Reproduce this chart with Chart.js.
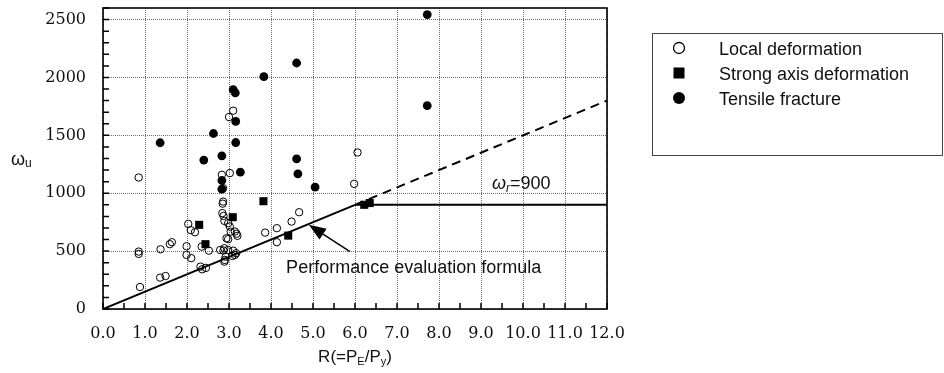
<!DOCTYPE html>
<html>
<head>
<meta charset="utf-8">
<script src="https://cdn.jsdelivr.net/npm/chart.js@4"></script>
<style>
  html, body { margin: 0; padding: 0; background: #fff; }
  #wrap { width: 944px; height: 373px; }
</style>
</head>
<body>
<div id="wrap"><canvas id="c" width="944" height="373"></canvas></div>
<script>
// Local deformation (open circles)
const localX = [0.85, 0.85, 0.85, 0.88, 1.37, 1.59, 1.64, 1.36, 1.49, 2.03, 2.09, 2.19, 1.99, 1.99, 2.10,
  2.32, 2.36, 2.35, 2.52, 2.45, 2.83, 3.02, 2.86, 2.85, 2.84, 2.87, 2.89, 2.98, 3.02, 3.04, 3.14, 3.18,
  3.20, 2.98, 2.94, 2.89, 2.87, 2.98, 3.10, 3.14, 2.92, 2.89, 2.90, 3.08, 3.17, 2.79, 3.10, 3.00, 3.86,
  4.14, 4.14, 4.49, 4.67, 5.98, 6.06, 2.86];
const localY = [1136, 496, 476, 190, 516, 560, 577, 271, 285, 735, 681, 663, 542, 467, 439,
  366, 343, 539, 504, 355, 1159, 1174, 928, 910, 828, 804, 761, 741, 712, 668, 669, 650,
  632, 603, 611, 525, 505, 510, 504, 467, 452, 409, 424, 458, 482, 510, 1713, 1658, 660,
  698, 577, 755, 836, 1081, 1352, 1044];

// Strong axis deformation (filled squares)
const strongX = [2.29, 2.44, 3.09, 3.82, 4.41, 6.22, 6.35];
const strongY = [727, 560, 793, 931, 634, 900, 915];

// Tensile fracture (filled circles)
const tensileX = [1.36, 2.40, 2.63, 2.83, 3.10, 3.15, 3.16, 3.16, 3.27, 2.83, 2.83, 3.83, 4.61, 7.72,
  7.72, 4.61, 4.64, 5.05];
const tensileY = [1436, 1286, 1516, 1323, 1894, 1866, 1620, 1438, 1182, 1110, 1035, 2007, 2125, 2543,
  1756, 1297, 1168, 1053];

// performance evaluation formula and its limit
const formulaX = [0, 6];
const formulaY = [0, 900];
const limitX = [6, 12];
const limitY = [900, 900];
const extendX = [6, 12];
const extendY = [900, 1800];

const xTicks = [0, 1, 2, 3, 4, 5, 6, 7, 8, 9, 10, 11, 12];
const yTicks = [0, 500, 1000, 1500, 2000, 2500];

const seriesNames = ['Local deformation', 'Strong axis deformation', 'Tensile fracture'];

const toPts = (xs, ys) => xs.map((x, i) => ({ x: x, y: ys[i] }));

const SANS = '"Liberation Sans", Arial, sans-serif';
const SERIF = '"DejaVu Serif", serif';
const INK = '#111';

// draw a run of text pieces (for subscripts / italics)
function richText(ctx, parts, x, y, align) {
  let total = 0;
  parts.forEach(p => {
    ctx.font = (p.italic ? 'italic ' : '') + p.size + 'px ' + SANS;
    p.w = ctx.measureText(p.t).width;
    total += p.w;
  });
  let cx = align === 'center' ? x - total / 2 : x;
  ctx.textAlign = 'left';
  ctx.textBaseline = 'alphabetic';
  parts.forEach(p => {
    ctx.font = (p.italic ? 'italic ' : '') + p.size + 'px ' + SANS;
    ctx.fillText(p.t, cx, y + (p.dy || 0));
    cx += p.w;
  });
}

const decor = {
  id: 'decor',
  afterDatasetsDraw(chart) {
    const { ctx, chartArea: a, scales } = chart;
    const xs = scales.x, ys = scales.y;
    ctx.save();
    ctx.setLineDash([]);

    // minor ticks, pointing inward
    ctx.lineWidth = 1.5;
    ctx.strokeStyle = '#000';
    ctx.beginPath();
    for (let i = 0; i <= 24; i++) {
      const px = xs.getPixelForValue(i * 0.5);
      ctx.moveTo(px, a.bottom);
      ctx.lineTo(px, a.bottom - 6);
    }
    for (let i = 0; i <= 26; i++) {
      const py = ys.getPixelForValue(i * 100);
      ctx.moveTo(a.left, py);
      ctx.lineTo(a.left + 6, py);
    }
    ctx.stroke();

    // frame
    ctx.strokeStyle = '#000';
    ctx.lineWidth = 1.6;
    ctx.strokeRect(a.left, a.top, a.right - a.left, a.bottom - a.top);

    // arrow to the formula line
    const tail = { x: xs.getPixelForValue(5.88), y: ys.getPixelForValue(496) };
    const tip = { x: xs.getPixelForValue(4.9), y: ys.getPixelForValue(727) };
    const dx = tip.x - tail.x, dy = tip.y - tail.y;
    const len = Math.hypot(dx, dy);
    const ux = dx / len, uy = dy / len;
    const headL = 17, headW = 6.5;
    const bx = tip.x - ux * headL, by = tip.y - uy * headL;
    ctx.lineWidth = 1.5;
    ctx.beginPath();
    ctx.moveTo(tail.x, tail.y);
    ctx.lineTo(bx, by);
    ctx.stroke();
    ctx.fillStyle = '#000';
    ctx.beginPath();
    ctx.moveTo(tip.x, tip.y);
    ctx.lineTo(bx - uy * headW, by + ux * headW);
    ctx.lineTo(bx + uy * headW, by - ux * headW);
    ctx.closePath();
    ctx.fill();

    // annotations
    ctx.fillStyle = INK;
    richText(ctx, [{ t: 'Performance evaluation formula', size: 18 }],
      xs.getPixelForValue(4.36), ys.getPixelForValue(311), 'left');
    richText(ctx, [
      { t: 'ω', size: 18, italic: true },
      { t: 'r', size: 12, italic: true, dy: 3 },
      { t: '=900', size: 18 }
    ], xs.getPixelForValue(9.26), ys.getPixelForValue(1040), 'left');

    // axis titles
    richText(ctx, [
      { t: 'R(=P', size: 17 }, { t: 'E', size: 11, dy: 3 },
      { t: '/P', size: 17 }, { t: 'y', size: 11, dy: 3 }, { t: ')', size: 17 }
    ], (a.left + a.right) / 2, a.bottom + 53, 'center');
    richText(ctx, [{ t: 'ω', size: 18 }, { t: 'u', size: 12, dy: 2 }], 11, 165, 'left');

    // legend box
    ctx.strokeStyle = '#444';
    ctx.lineWidth = 1;
    ctx.strokeRect(652.5, 33.5, 290, 122);
    const mx = 679, rows = [48, 73, 98];
    ctx.lineWidth = 1.3;
    ctx.strokeStyle = '#000';
    ctx.beginPath();
    ctx.arc(mx, rows[0], 5.5, 0, Math.PI * 2);
    ctx.stroke();
    ctx.fillStyle = '#000';
    ctx.fillRect(mx - 5.5, rows[1] - 5.5, 11, 11);
    ctx.beginPath();
    ctx.arc(mx, rows[2], 6, 0, Math.PI * 2);
    ctx.fill();
    ctx.fillStyle = INK;
    seriesNames.forEach((name, i) => {
      richText(ctx, [{ t: name, size: 18 }], 719, rows[i] + 6.5, 'left');
    });

    ctx.restore();
  }
};

const lineStyle = {
  type: 'line', showLine: true, pointRadius: 0, borderColor: '#000', borderWidth: 2,
  fill: false, tension: 0
};

new Chart(document.getElementById('c'), {
  type: 'scatter',
  data: {
    datasets: [
      {
        label: seriesNames[0], data: toPts(localX, localY), pointStyle: 'circle',
        pointRadius: 3.7, backgroundColor: 'rgba(255,255,255,0)', borderColor: '#000', borderWidth: 1
      },
      {
        label: seriesNames[1], data: toPts(strongX, strongY), pointStyle: 'rect',
        pointRadius: 5.7, backgroundColor: '#000', borderColor: '#000', borderWidth: 0
      },
      {
        label: seriesNames[2], data: toPts(tensileX, tensileY), pointStyle: 'circle',
        pointRadius: 4.4, backgroundColor: '#000', borderColor: '#000', borderWidth: 0
      },
      Object.assign({ label: 'formula', data: toPts(formulaX, formulaY) }, lineStyle),
      Object.assign({ label: 'limit', data: toPts(limitX, limitY) }, lineStyle),
      Object.assign({ label: 'extension', data: toPts(extendX, extendY), borderDash: [9, 6] }, lineStyle)
    ]
  },
  options: {
    responsive: false,
    animation: false,
    layout: { padding: { left: 0, right: 337, top: 8, bottom: 0 } },
    plugins: { legend: { display: false }, tooltip: { enabled: false } },
    scales: {
      x: {
        type: 'linear', min: 0, max: 12,
        afterFit: s => { s.height = 64; s.paddingLeft = 0; s.paddingRight = 0; },
        afterBuildTicks: s => { s.ticks = xTicks.map(v => ({ value: v })); },
        ticks: {
          callback: v => v.toFixed(1), color: INK, padding: 15, maxRotation: 0, autoSkip: false,
          font: { family: SERIF, size: 16 }
        },
        grid: { color: '#6e6e6e', lineWidth: 1, drawTicks: false },
        border: { display: false, dash: [1, 1] }
      },
      y: {
        type: 'linear', min: 0, max: 2600,
        afterFit: s => { s.width = 103; s.paddingTop = 0; s.paddingBottom = 0; },
        afterBuildTicks: s => { s.ticks = yTicks.map(v => ({ value: v })); },
        ticks: {
          callback: v => String(v), color: INK, padding: 17,
          font: { family: SERIF, size: 16 }
        },
        grid: { color: '#6e6e6e', lineWidth: 1, drawTicks: false },
        border: { display: false, dash: [1, 1] }
      }
    }
  },
  plugins: [decor]
});
</script>
</body>
</html>
